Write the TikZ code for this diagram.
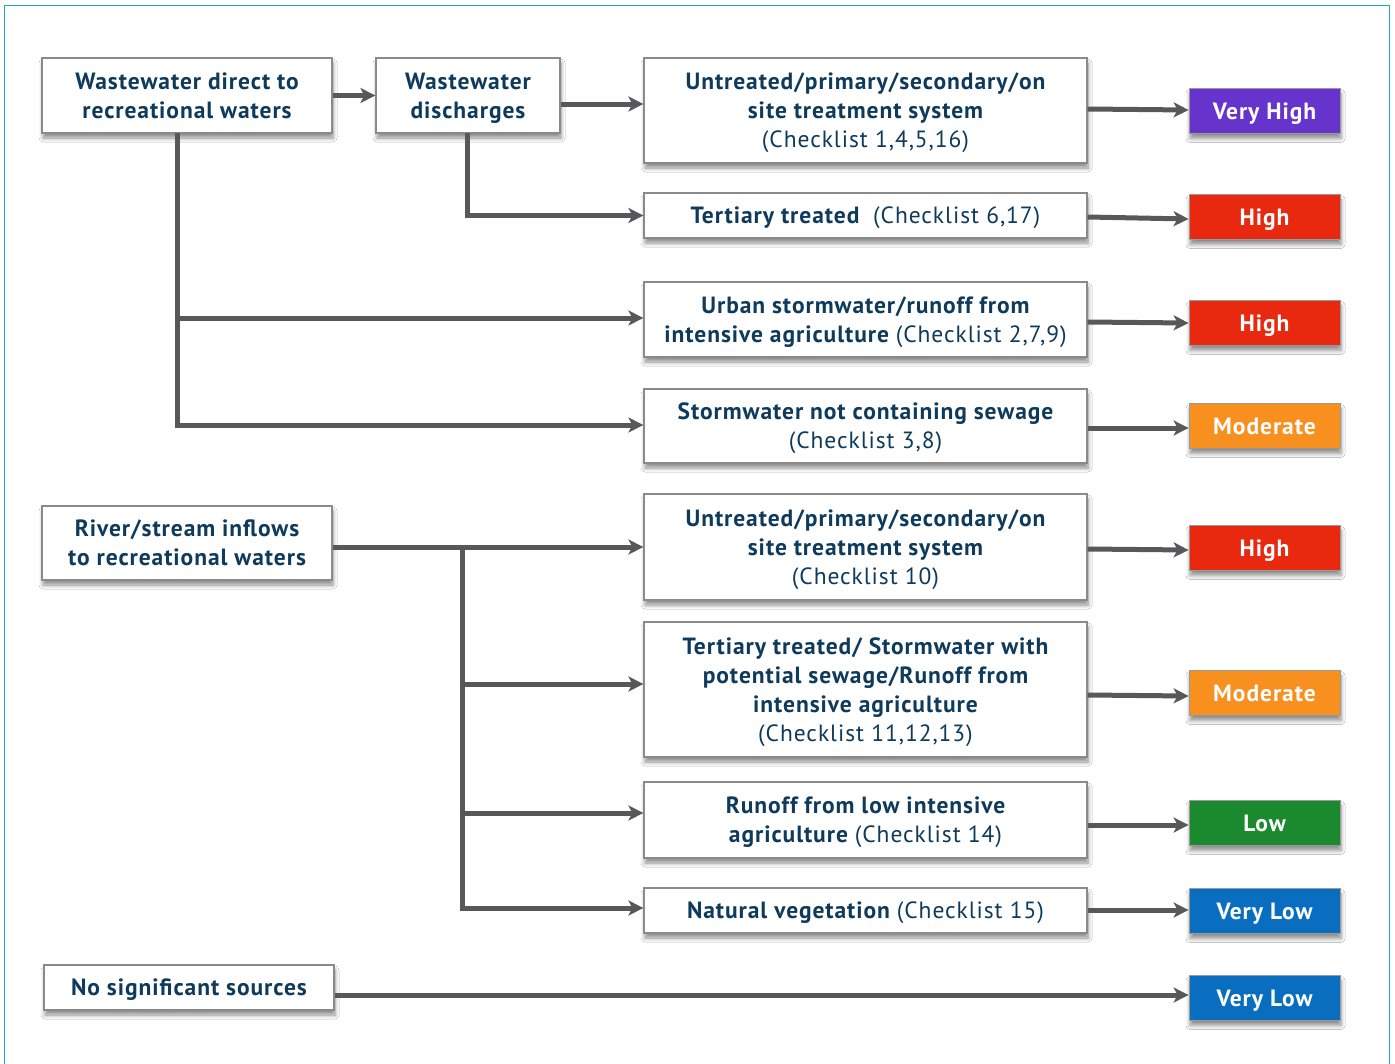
\documentclass[tikz,border=0pt]{standalone}
\usepackage{fontspec}
\setmainfont{PT Sans}[LetterSpace=4]
\usetikzlibrary{arrows.meta,shadows.blur}
\definecolor{ink}{HTML}{0E3A5C}
\definecolor{wire}{HTML}{58585A}
\definecolor{frameline}{HTML}{1FA3C8}
\definecolor{boxline}{HTML}{8A8A8A}
\definecolor{vhigh}{HTML}{6633CC}
\definecolor{high}{HTML}{E8290F}
\definecolor{moderate}{HTML}{F7901E}
\definecolor{low}{HTML}{1B8A2E}
\definecolor{vlow}{HTML}{0A6EC0}
\newcommand\chk[1]{{\mdseries(Checklist #1)}}
\tikzset{
  softshadow/.style={blur shadow={shadow xshift=1pt, shadow yshift=-5pt,
    shadow blur radius=4pt, shadow blur steps=6, shadow opacity=45}},
  src/.style={draw=boxline, line width=1.2pt, fill=white, inner sep=0pt,
    align=center, text=ink, font=\fontsize{23.5}{29}\selectfont\bfseries,
    text depth=-1.5pt, softshadow},
  risk/.style={draw=black!40, line width=0.8pt, inner sep=0pt,
    minimum width=151pt, minimum height=45pt, text=white,
    text height=18pt, text depth=2pt,
    font=\fontsize{23.5}{26}\selectfont\bfseries, softshadow},
  link/.style={draw=wire, line width=5pt, -{Stealth[length=15pt,width=15pt,inset=4pt]}},
  trunk/.style={draw=wire, line width=5pt}
}
\begin{document}
\begin{tikzpicture}[x=1pt,y=-1pt]
\useasboundingbox (0,0) rectangle (1395,1063);
\fill[white] (0,0) rectangle (1395,1063);
\draw[frameline, line width=1.6pt] (4.5,5.5) rectangle (1389.5,1075);

% source boxes, left column
\node[src, minimum width=290pt, minimum height=75pt] (ww) at (187,95.5)
  {Wastewater direct to\\recreational waters};
\node[src, minimum width=184pt, minimum height=75pt] (wd) at (468,95.5)
  {Wastewater\\discharges};
\node[src, minimum width=290pt, minimum height=74pt] (rv) at (187,543)
  {River/stream inflows\\to recreational waters};
\node[src, minimum width=290pt, minimum height=45pt] (ns) at (189,987.5)
  {No significant sources};

% pathway boxes, middle column
\node[src, minimum width=443pt, minimum height=105pt] (p1) at (865.5,110.5)
  {Untreated/primary/secondary/on\\site treatment system\\\chk{1,4,5,16}};
\node[src, minimum width=443pt, minimum height=45pt] (p2) at (865.5,215.5)
  {Tertiary treated\ \ \chk{6,17}};
\node[src, minimum width=443pt, minimum height=75pt] (p3) at (865.5,319.5)
  {Urban stormwater/runoff from\\intensive agriculture \chk{2,7,9}};
\node[src, minimum width=443pt, minimum height=74pt] (p4) at (865.5,426)
  {Stormwater not containing sewage\\\chk{3,8}};
\node[src, minimum width=443pt, minimum height=106pt] (p5) at (865.5,547)
  {Untreated/primary/secondary/on\\site treatment system\\\chk{10}};
\node[src, minimum width=443pt, minimum height=135pt] (p6) at (865.5,689.5)
  {Tertiary treated/ Stormwater with\\potential sewage/Runoff from\\intensive agriculture\\\chk{11,12,13}};
\node[src, minimum width=443pt, minimum height=76pt] (p7) at (865.5,820)
  {Runoff from low intensive\\agriculture \chk{14}};
\node[src, minimum width=443pt, minimum height=45pt] (p8) at (865.5,910.5)
  {Natural vegetation \chk{15}};

% risk categories, right column
\node[risk, fill=vhigh]    (r1) at (1264.5,111) {Very High};
\node[risk, fill=high]     (r2) at (1264.5,217) {High};
\node[risk, fill=high]     (r3) at (1264.5,323) {High};
\node[risk, fill=moderate] (r4) at (1264.5,426) {Moderate};
\node[risk, fill=high]     (r5) at (1264.5,548) {High};
\node[risk, fill=moderate] (r6) at (1264.5,693) {Moderate};
\node[risk, fill=low]      (r7) at (1264.5,823) {Low};
\node[risk, fill=vlow]     (r8) at (1264.5,911) {Very Low};
\node[risk, fill=vlow]     (r9) at (1264.5,998) {Very Low};

% wastewater branch
\draw[link] (ww.east) -- (wd.west);
\draw[link] (wd.east |- 0,104) -- (p1.west |- 0,104);
\draw[link] (467,133) |- (p2.west);
\coordinate (wwfoot) at (177,133);
\draw[trunk] (wwfoot) -- (177,427.5);
\draw[link] (175,318) -- (p3.west |- 0,318);
\draw[link] (175,425) -- (p4.west |- 0,425);

% river branch
\draw[link] (rv.east |- 0,547) -- (p5.west |- 0,547);
\draw[trunk] (462,544.5) -- (462,910.5);
\draw[link] (459.5,684) -- (p6.west |- 0,684);
\draw[link] (459.5,813) -- (p7.west |- 0,813);
\draw[link] (459.5,908) -- (p8.west |- 0,908);

% no significant sources
\draw[link] (ns.east |- 0,995) -- (r9.west |- 0,995);

% pathway to risk
\draw[link] (p1.east |- 0,109) -- (r1.west |- 0,110);
\draw[link] (p2.east |- 0,217) -- (r2.west |- 0,219);
\draw[link] (p3.east |- 0,322) -- (r3.west |- 0,323);
\draw[link] (p4.east |- 0,428) -- (r4.west |- 0,428);
\draw[link] (p5.east |- 0,549) -- (r5.west |- 0,550);
\draw[link] (p6.east |- 0,695) -- (r6.west |- 0,696);
\draw[link] (p7.east |- 0,825) -- (r7.west |- 0,825);
\draw[link] (p8.east |- 0,910) -- (r8.west |- 0,910);
\end{tikzpicture}
\end{document}
